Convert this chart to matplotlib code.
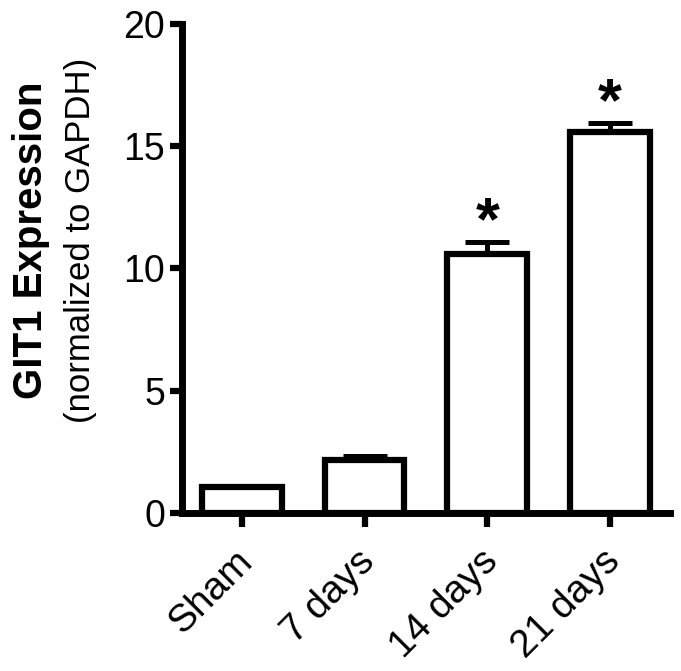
import numpy as np
import matplotlib.pyplot as plt
from matplotlib.transforms import ScaledTranslation

plt.rcParams['font.family'] = ['Liberation Sans', 'DejaVu Sans']

# Data
groups = ['Sham', '7 days', '14 days', '21 days']
expression = [1.05, 2.17, 10.58, 15.58]
sem = [0.05, 0.16, 0.5, 0.37]
significant = [False, False, True, True]

fig = plt.figure(figsize=(6.81, 6.71), dpi=100)
ax = fig.add_axes([0.267, 0.2355, 0.717, 0.729])

x = np.arange(len(groups))
lw = 4.5
ax.bar(x, expression, width=0.65, color='white', edgecolor='black',
       linewidth=lw, zorder=2)
ax.errorbar(x, expression, yerr=[np.zeros(len(sem)), sem], fmt='none',
            ecolor='black', elinewidth=lw * 0.8, capsize=16, capthick=lw * 0.8,
            zorder=1)

for xi, val, err, sig in zip(x, expression, sem, significant):
    if sig:
        ax.text(xi, val + err + 0.12, '*', ha='center', va='baseline',
                fontsize=44, fontweight='bold')

ax.set_xlim(-0.49, 3.49)
ax.set_ylim(0, 20)
ax.set_yticks([0, 5, 10, 15, 20])
ax.set_xticks(x)
ax.set_xticklabels(groups, rotation=45, ha='right', rotation_mode='anchor',
                   fontsize=28)
ax.tick_params(axis='y', labelsize=27, width=lw, length=9, pad=3)
ax.tick_params(axis='x', width=lw, length=10, pad=6)

# nudge the slanted labels a little down and left
shift = ScaledTranslation(-0.08, -0.08, fig.dpi_scale_trans)
for lab in ax.get_xticklabels():
    lab.set_transform(lab.get_transform() + shift)

for side in ['top', 'right']:
    ax.spines[side].set_visible(False)
for side in ['left', 'bottom']:
    ax.spines[side].set_linewidth(lw + 0.5)

fig.text(0.045, 0.642, 'GIT1 Expression', rotation=90, ha='center',
         va='center', fontsize=29, fontweight='bold')
fig.text(0.118, 0.642, '(normalized to GAPDH)', rotation=90, ha='center',
         va='center', fontsize=25)

fig.savefig('out.png', dpi=100)
